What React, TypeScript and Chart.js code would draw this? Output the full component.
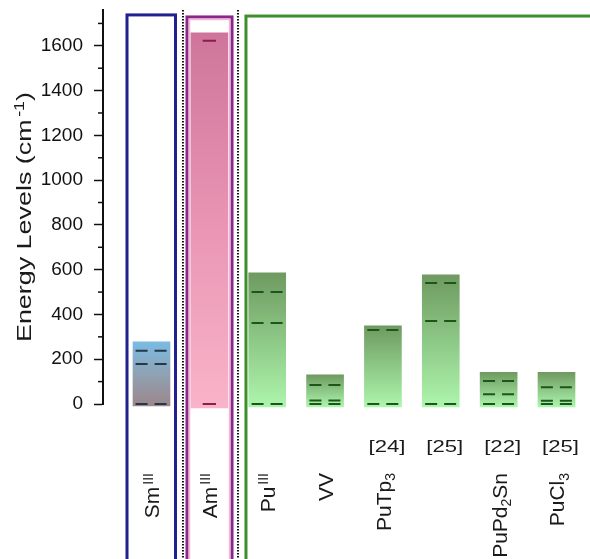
import React, { useEffect, useRef } from 'react';
import { Chart, registerables } from 'chart.js';

Chart.register(...registerables);

// ---------- data ----------
const categoryNames = ['Sm(III)', 'Am(III)', 'Pu(III)', 'VV', 'PuTp3', 'Pu [25]', 'PuPd2Sn', 'PuCl3'];
// rich-text pieces of each category label: [text, mode]
const categoryLabelParts: [string, string][][] = [
  [['Sm', ''], ['III', 'sup']],
  [['Am', ''], ['III', 'sup']],
  [['Pu', ''], ['III', 'sup']],
  [['VV', '']],
  [['PuTp', ''], ['3', 'sub']],
  [],
  [['PuPd', ''], ['2', 'sub'], ['Sn', '']],
  [['PuCl', ''], ['3', 'sub']],
];
const referenceTags = ['', '', '', '', '[24]', '[25]', '[22]', '[25]'];
const categoryGroup = ['sm', 'am', 'pu', 'pu', 'pu', 'pu', 'pu', 'pu'];

const bandLow = [-9, -18, -13, -13, -13, -13, -13, -13];
const bandHigh = [278, 1658, 586, 130, 349, 577, 141, 141];

const levelsSm = [0, 179, 238];
const levelsAm = [0, 1623];
const levelsPu = [0, 362, 500];
const levelsVV = [0, 16, 85];
const levelsPuTp3 = [0, 331];
const levelsPu25 = [0, 371, 541];
const levelsPuPd2Sn = [0, 43, 103];
const levelsPuCl3 = [0, 15, 75];
const allLevels = [levelsSm, levelsAm, levelsPu, levelsVV, levelsPuTp3, levelsPu25, levelsPuPd2Sn, levelsPuCl3];

const yMajorTicks = [0, 200, 400, 600, 800, 1000, 1200, 1400, 1600];
const yMinorTicks = [100, 300, 500, 700, 900, 1100, 1300, 1500, 1700];
const yAxisTitle: [string, string][] = [['Energy Levels (cm', ''], ['-1', 'sup'], [')', '']];

// group frames (x in category units, top in energy units)
const frameFrom = [0.577, 1.614, 2.633];
const frameTo = [1.415, 2.392, 9.5];
const frameTop = [1738, 1729, 1733];
const dividerAt = [1.544, 2.495];

// ---------- styles ----------
const FONT = "'Liberation Sans', Arial, sans-serif";
const groupStyle: Record<string, any> = {
  sm: { stops: ['#7abbe3', '#8fa2b4', '#9c868b'], dash: '#22394a', half: 0.275, pattern: [12, 7] },
  am: { stops: ['#cf759b', '#e994b3', '#f9b4c9'], dash: '#8a1f4c', half: 0.115, pattern: [] },
  pu: { stops: ['#6f9a60', '#8dc886', '#adf5ad'], dash: '#1b561b', half: 0.27, pattern: [12, 7] },
};
const frameColors = ['#20208f', '#8b268b', '#3e8e2e'];

function richMeasure(ctx: CanvasRenderingContext2D, parts: [string, string][], size: number) {
  let total = 0;
  const items = parts.map(([t, m]) => {
    const s = m ? Math.round(size * 0.66) : size;
    ctx.font = `${s}px ${FONT}`;
    const gap = m === 'sup' ? 2 : 0;
    const w = ctx.measureText(t).width + gap;
    total += w;
    return { t, m, s, w, gap };
  });
  return { items, total };
}

function richDraw(ctx: CanvasRenderingContext2D, parts: [string, string][], size: number, startX: number) {
  const { items } = richMeasure(ctx, parts, size);
  let x = startX;
  for (const it of items) {
    ctx.font = `${it.s}px ${FONT}`;
    const dy = it.m === 'sup' ? -size * 0.33 : it.m === 'sub' ? size * 0.2 : 0;
    ctx.fillText(it.t, x + it.gap, dy);
    x += it.w;
  }
}

const decorPlugin = {
  id: 'decor',
  afterDraw(chart: any) {
    const { ctx } = chart;
    const xs = chart.scales.x;
    const ys = chart.scales.y;
    ctx.save();
    // frames
    for (let k = 0; k < frameFrom.length; k++) {
      const l = xs.getPixelForValue(frameFrom[k]);
      const r = xs.getPixelForValue(frameTo[k]);
      const t = ys.getPixelForValue(frameTop[k]);
      ctx.strokeStyle = frameColors[k];
      ctx.lineWidth = 3;
      ctx.strokeRect(l, t, r - l, chart.height + 10 - t);
      if (k === 1) {
        ctx.strokeStyle = '#f3b7d6';
        ctx.lineWidth = 1.5;
        ctx.strokeRect(l + 2.5, t + 2.5, r - l - 5, chart.height + 10 - t);
      }
    }
    // dotted dividers
    ctx.strokeStyle = '#111';
    ctx.lineWidth = 2;
    ctx.setLineDash([1.5, 1.5]);
    for (const d of dividerAt) {
      const x = xs.getPixelForValue(d);
      ctx.beginPath();
      ctx.moveTo(x, chart.chartArea.top);
      ctx.lineTo(x, chart.height);
      ctx.stroke();
    }
    ctx.setLineDash([]);
    // minor y ticks
    ctx.strokeStyle = '#111';
    ctx.lineWidth = 1.5;
    for (const v of yMinorTicks) {
      const y = ys.getPixelForValue(v);
      ctx.beginPath();
      ctx.moveTo(chart.chartArea.left - 5, y);
      ctx.lineTo(chart.chartArea.left, y);
      ctx.stroke();
    }
    // category labels
    ctx.fillStyle = '#1a1a1a';
    ctx.textBaseline = 'alphabetic';
    ctx.textAlign = 'left';
    categoryLabelParts.forEach((parts, i) => {
      const cx = xs.getPixelForValue(i + 1);
      if (parts.length) {
        const { total } = richMeasure(ctx, parts, 21);
        ctx.save();
        ctx.translate(cx + 8, 473);
        ctx.rotate(-Math.PI / 2);
        richDraw(ctx, parts, 21, -total);
        ctx.restore();
      }
      if (referenceTags[i]) {
        ctx.save();
        ctx.font = `17px ${FONT}`;
        ctx.textAlign = 'center';
        ctx.translate(cx + 4, 452);
        ctx.scale(1.3, 1);
        ctx.fillText(referenceTags[i], 0, 0);
        ctx.restore();
      }
    });
    // y axis title
    const { total } = richMeasure(ctx, yAxisTitle, 21);
    ctx.save();
    ctx.translate(31, 217);
    ctx.rotate(-Math.PI / 2);
    ctx.scale(1.28, 1);
    richDraw(ctx, yAxisTitle, 21, -total / 2);
    ctx.restore();
    ctx.restore();
  },
};

export default function App() {
  const ref = useRef<HTMLCanvasElement>(null);
  useEffect(() => {
    document.body.style.margin = '0';
    const bandData = categoryNames.map((_, i) => ({ x: i + 1, y: [bandLow[i], bandHigh[i]] }));
    const levelSets = allLevels.map((lv, i) => {
      const st = groupStyle[categoryGroup[i]];
      const pts: any[] = [];
      lv.forEach((v) => {
        pts.push({ x: i + 1 - st.half, y: v }, { x: i + 1 + st.half, y: v }, { x: i + 1, y: null });
      });
      return {
        type: 'line' as const,
        label: categoryNames[i] + ' levels',
        data: pts,
        borderColor: st.dash,
        borderWidth: 2,
        borderDash: st.pattern,
        pointRadius: 0,
        spanGaps: false,
        clip: false as any,
        order: 0,
      };
    });
    const chart = new Chart(ref.current!, {
      type: 'bar',
      data: {
        datasets: [
          {
            type: 'bar',
            label: 'bands',
            data: bandData as any,
            barThickness: 37,
            borderWidth: 0,
            clip: false as any,
            order: 1,
            backgroundColor: (c: any) => {
              const chart = c.chart;
              const i = c.dataIndex ?? 0;
              const st = groupStyle[categoryGroup[i]];
              if (!chart.chartArea) return st.stops[0];
              const ys = chart.scales.y;
              const g = chart.ctx.createLinearGradient(0, ys.getPixelForValue(bandHigh[i]), 0, ys.getPixelForValue(bandLow[i]));
              g.addColorStop(0, st.stops[0]);
              g.addColorStop(0.5, st.stops[1]);
              g.addColorStop(1, st.stops[2]);
              return g;
            },
          } as any,
          ...levelSets,
        ],
      },
      options: {
        animation: false,
        responsive: true,
        maintainAspectRatio: false,
        layout: { padding: { top: 10, bottom: 155, left: 0, right: 0 } },
        plugins: { legend: { display: false }, tooltip: { enabled: false } },
        scales: {
          x: {
            type: 'linear',
            display: false,
            offset: false,
            grid: { offset: false },
            min: 0.162,
            max: 8.579,
          },
          y: {
            type: 'linear',
            min: 0,
            max: 1760,
            afterBuildTicks: (s: any) => {
              s.ticks = yMajorTicks.map((v) => ({ value: v }));
            },
            afterFit: (s: any) => {
              s.width = 103;
              s.paddingTop = 0;
              s.paddingBottom = 0;
            },
            ticks: {
              autoSkip: false,
              padding: 11,
              color: '#111',
              font: { family: FONT, size: 19 },
              callback: (v: any) => String(v),
            },
            grid: { drawOnChartArea: false, drawTicks: true, tickLength: 9, tickColor: '#111', tickWidth: 1.5 },
            border: { display: true, color: '#111', width: 2 },
          },
        },
      },
      plugins: [decorPlugin],
    });
    return () => chart.destroy();
  }, []);
  return (
    <div style={{ width: 590, height: 559, position: 'relative' }}>
      <canvas ref={ref} />
    </div>
  );
}
